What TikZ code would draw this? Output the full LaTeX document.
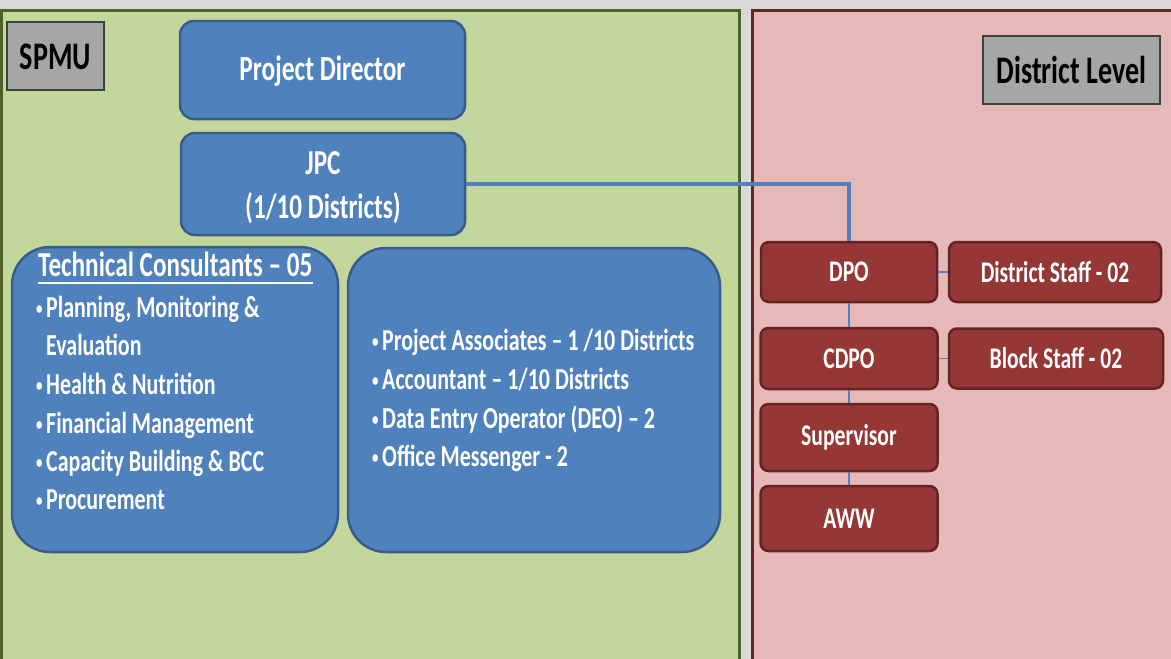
\documentclass[tikz,border=0pt]{standalone}
\usepackage{fontspec}
\setmainfont{Carlito}[FakeStretch=0.72]
\usetikzlibrary{calc}
\definecolor{bggray}{HTML}{D9D9D9}
\definecolor{greenfill}{HTML}{C3D69B}
\definecolor{greenborder}{HTML}{4F6228}
\definecolor{pinkfill}{HTML}{E6B9B8}
\definecolor{pinkborder}{HTML}{632523}
\definecolor{bluefill}{HTML}{4F81BD}
\definecolor{blueborder}{HTML}{385D8A}
\definecolor{redfill}{HTML}{953735}
\definecolor{redborder}{HTML}{632523}
\definecolor{labelgray}{HTML}{A6A6A6}
\definecolor{labelborder}{HTML}{404040}
\newcommand\myfs[1]{\fontsize{#1}{#1}\selectfont\bfseries}
\newcommand\mybul{\makebox[10pt][l]{\raisebox{3pt}{\fontsize{18}{18}\selectfont •}}}
\begin{document}
\begin{tikzpicture}[x=1pt,y=-1pt,
  panelgreen/.style={draw=greenborder, fill=greenfill, line width=3pt},
  panelpink/.style={draw=pinkborder, fill=pinkfill, line width=3pt},
  lvlabel/.style={draw=labelborder, fill=labelgray, line width=1.5pt, inner sep=0pt, text=black},
  bluebox/.style={draw=blueborder, fill=bluefill, line width=2.5pt, rounded corners=14pt, text=white, inner sep=0pt, align=center},
  bigblue/.style={bluebox, rounded corners=38pt},
  redbox/.style={draw=redborder, fill=redfill, line width=2.5pt, rounded corners=8pt, text=white, inner sep=0pt, font={\myfs{30}}},
  listitem/.style={anchor=base west, inner sep=0pt, text=white, font={\myfs{30.5}}},
  conn/.style={draw=bluefill, line width=3.5pt},
  thinconn/.style={draw=bluefill, line width=1.2pt}]
\useasboundingbox (0,0) rectangle (1171,659);
\clip (0,0) rectangle (1171,659);
\fill[bggray] (0,0) rectangle (1171,659);
% panels
\path[panelgreen] (1.5,10.5) rectangle (739,680);
\path[panelpink] (752,10.5) rectangle (1190,680);
% labels
\node[lvlabel, minimum width=97pt, minimum height=68pt, font={\myfs{39}}] (spmu) at (55.5,56) {\rule{0pt}{27pt}SPMU};
\node[lvlabel, minimum width=177pt, minimum height=68pt, font={\myfs{39}}] (dl) at (1071.5,70) {District Level};
% SPMU boxes
\node[bluebox, minimum width=285pt, minimum height=98pt, font={\myfs{35.3}}] (pd) at (322.5,70) {\rule{0pt}{27pt}Project Director};
\node[bluebox, minimum width=284pt, minimum height=102pt, font={\fontsize{35}{44}\selectfont\bfseries}] (jpc) at (323,184) {\rule{0pt}{31pt}JPC\\(1/10 Districts)};
\node[bigblue, minimum width=326pt, minimum height=305pt] (tc) at (175,399.5) {};
\node[bigblue, minimum width=372pt, minimum height=304pt] (ps) at (534,400) {};
% technical consultants text
\node[listitem, font={\myfs{35}}] (tc0) at (38,276) {Technical Consultants – 05};
\draw[white, line width=1.8pt] ($(tc0.base west)+(0,7)$) -- ($(tc0.base east)+(0,7)$);
\node[listitem] (tc1) at (36,317) {\mybul Planning, Monitoring \&};
\node[listitem] (tc2) at (46,355) {Evaluation};
\node[listitem] (tc3) at (36,394) {\mybul Health \& Nutrition};
\node[listitem] (tc4) at (36,433) {\mybul Financial Management};
\node[listitem] (tc5) at (36,471) {\mybul Capacity Building \& BCC};
\node[listitem] (tc6) at (36,509) {\mybul Procurement};
% project staff text
\node[listitem] (ps1) at (372,350) {\mybul Project Associates – 1 /10 Districts};
\node[listitem] (ps2) at (372,389) {\mybul Accountant – 1/10 Districts};
\node[listitem] (ps3) at (372,428) {\mybul Data Entry Operator (DEO) – 2};
\node[listitem] (ps4) at (372,466) {\mybul Office Messenger - 2};
% district boxes
\node[redbox, minimum width=176pt, minimum height=60pt] (dpo) at (849,272) {DPO};
\node[redbox, minimum width=212pt, minimum height=60pt] (dstaff) at (1055,272) {District Staff - 02};
\node[redbox, minimum width=177pt, minimum height=61pt] (cdpo) at (849,358.5) {CDPO};
\node[redbox, minimum width=214pt, minimum height=60pt] (bstaff) at (1056,358.5) {Block Staff - 02};
\node[redbox, minimum width=177pt, minimum height=67pt] (sup) at (849,437.5) {\rule{0pt}{21pt}Supervisor};
\node[redbox, minimum width=177pt, minimum height=65pt] (aww) at (849,518.5) {AWW};
% connectors
\draw[conn] (jpc.east) -| (dpo.north);
\draw[thinconn] (dpo) -- (cdpo);
\draw[thinconn] (cdpo) -- (sup);
\draw[thinconn] (sup) -- (aww);
\draw[thinconn] (dpo) -- (dstaff);
\draw[thinconn] (cdpo) -- (bstaff);
\end{tikzpicture}
\end{document}
